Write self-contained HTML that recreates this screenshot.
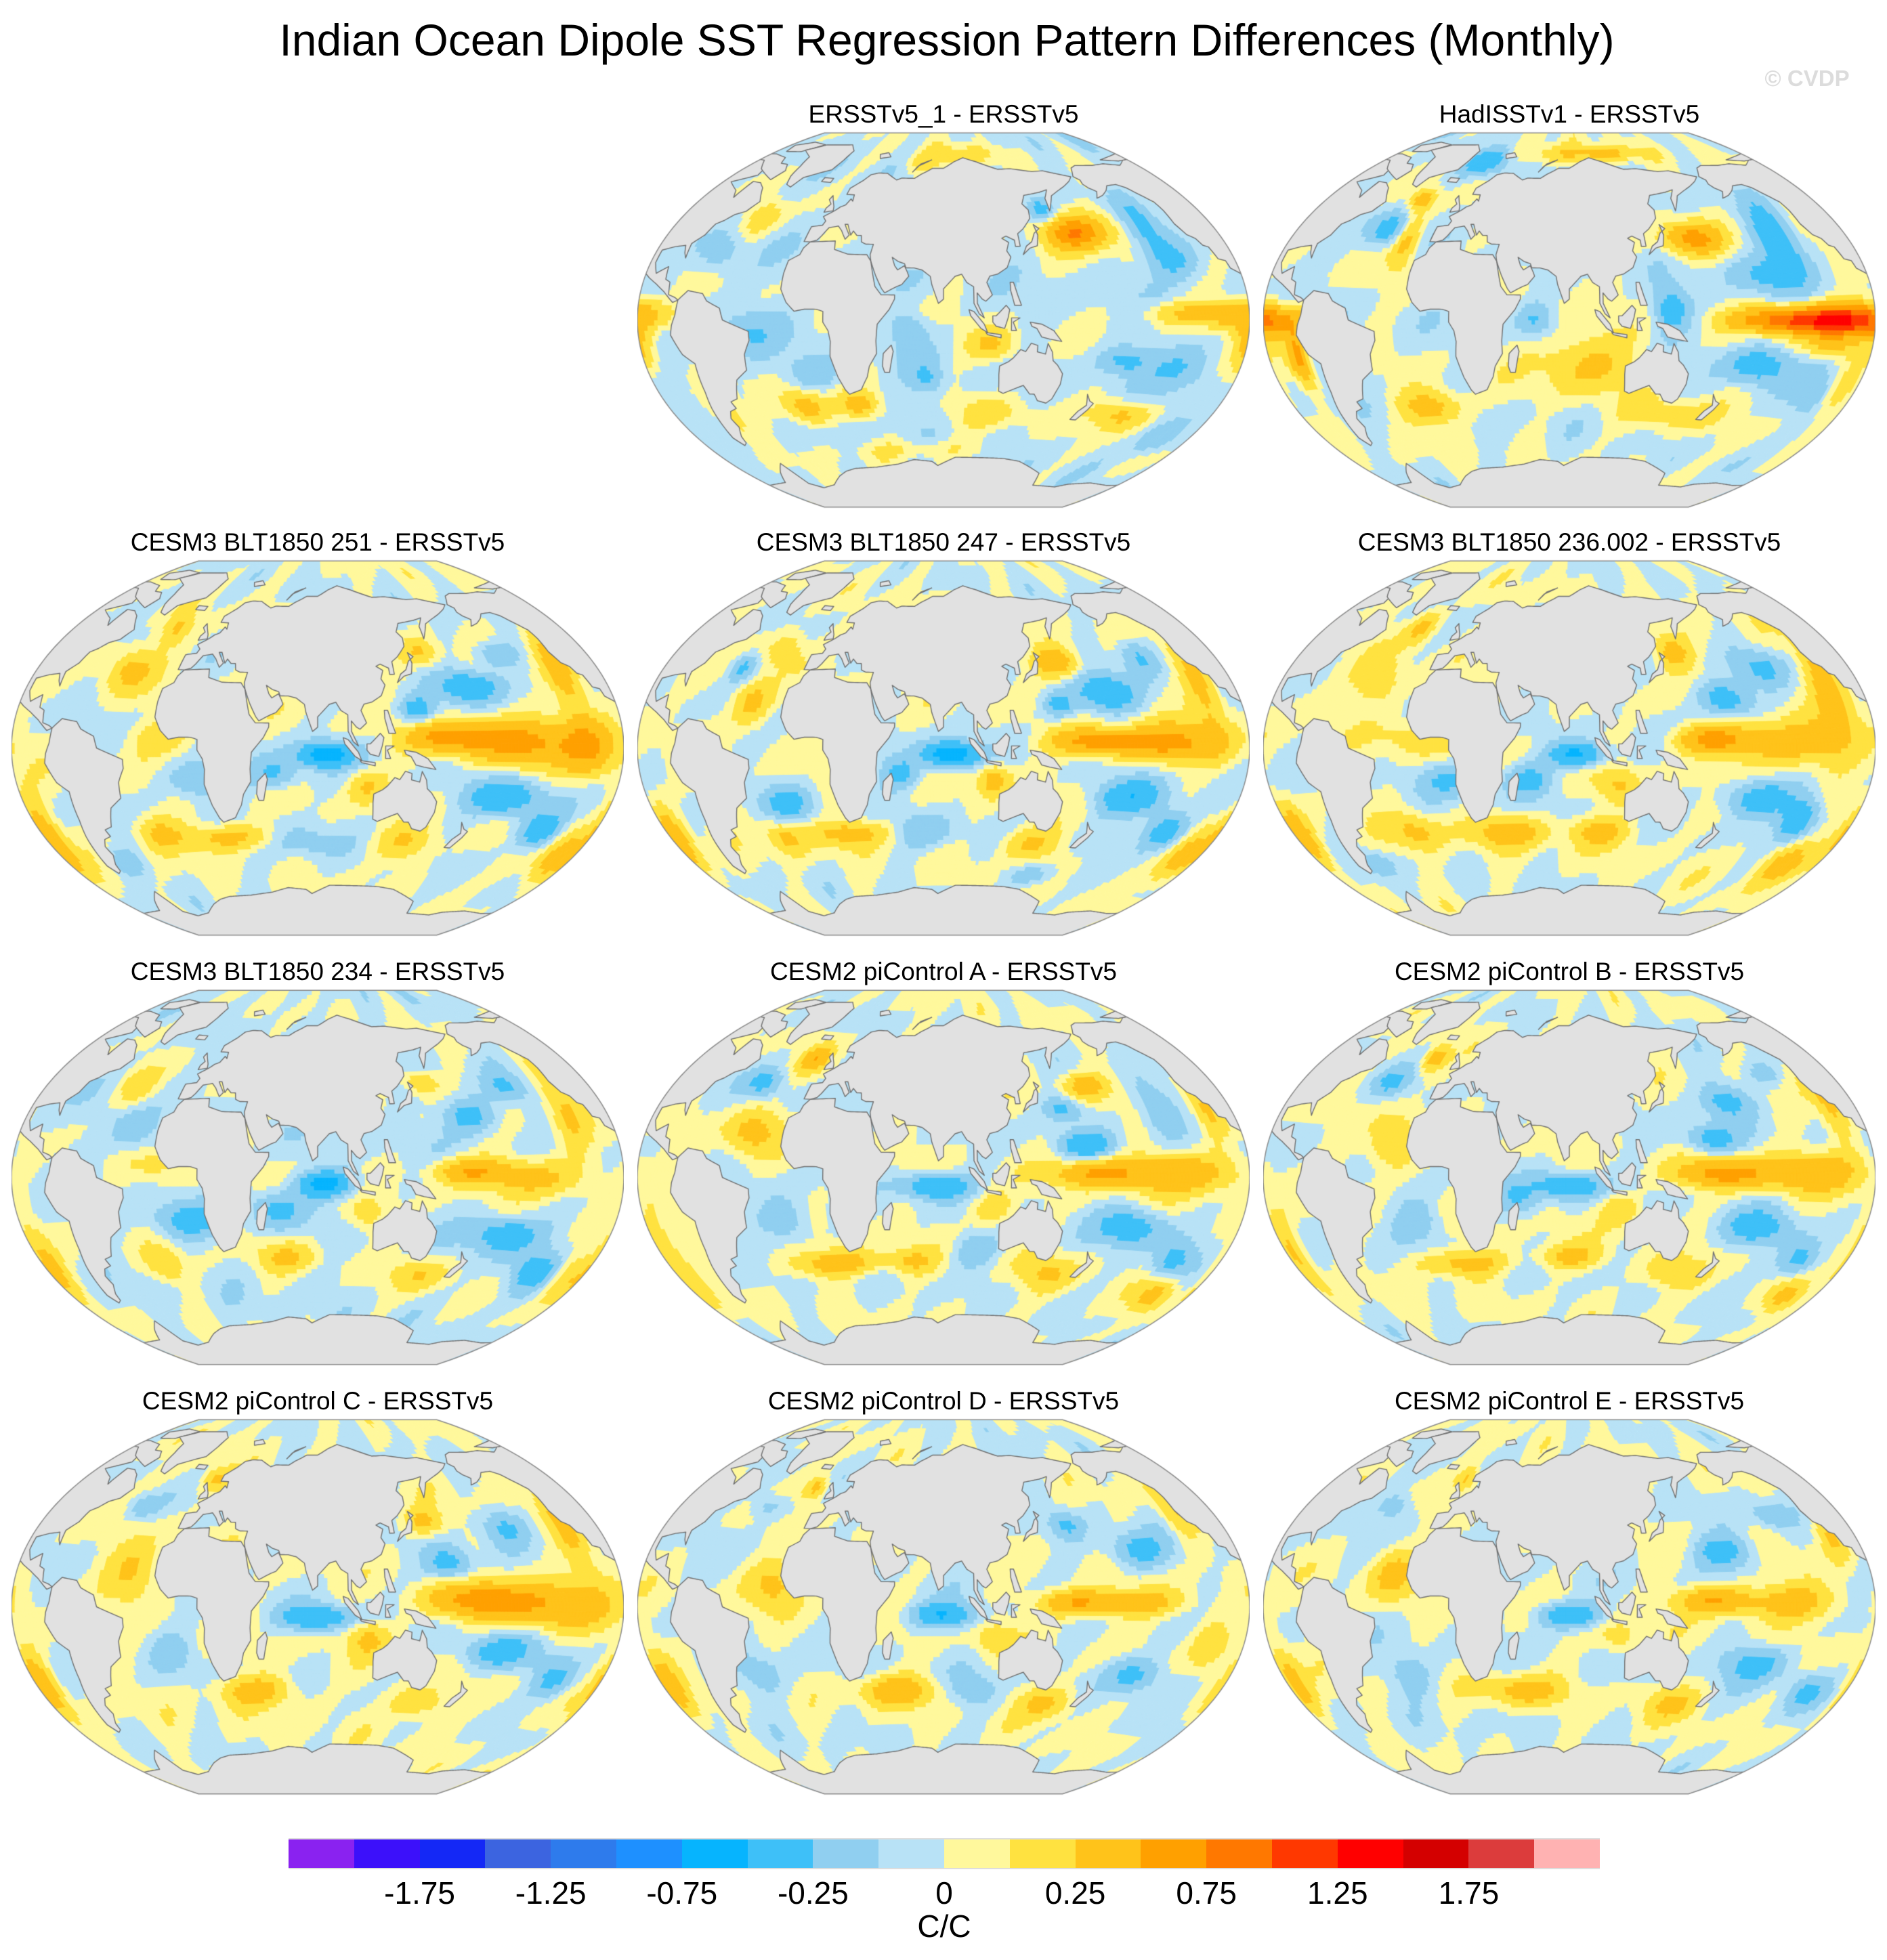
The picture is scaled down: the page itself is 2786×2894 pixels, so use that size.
<!DOCTYPE html>
<html><head><meta charset="utf-8">
<style>
html,body{margin:0;padding:0;background:#fff;}
body{width:2786px;height:2894px;position:relative;overflow:hidden;font-family:"Liberation Sans",Arial,sans-serif;}
.t{position:absolute;white-space:nowrap;transform:translate(-50%,-50%);color:#000;}
canvas{position:absolute;}
.cb{position:absolute;top:2714px;height:46px;box-sizing:border-box;}
</style></head>
<body>
<div class="t" style="left:1398px;top:59px;font-size:66px;">Indian Ocean Dipole SST Regression Pattern Differences (Monthly)</div>
<div class="t" style="left:2668px;top:116px;font-size:33px;font-weight:bold;color:#dcdcdc;">© CVDP</div>
<div id="panels"></div>
<div id="colorbar"></div>
<div class="t" style="left:1394px;top:2844px;font-size:46px;">C/C</div>
<script>
const levels=[-2,-1.75,-1.5,-1.25,-1,-0.75,-0.5,-0.25,-0.1,0,0.1,0.25,0.5,0.75,1,1.25,1.5,1.75,2];
const colors=['#8a22f0','#3c10fa','#1428f6','#3c64e0','#2e7bec','#1e90ff','#06b4fe','#3ec0f8','#90cff0','#b8e2f6','#fff89c','#ffe240','#ffc31a','#ffa000','#ff7800','#ff3800','#ff0000','#d40000','#dc3c3c','#ffb2b2'];
const tickLabels=['-1.75','-1.25','-0.75','-0.25','0','0.25','0.75','1.25','1.75'];
const tickLevels=[-1.75,-1.25,-0.75,-0.25,0,0.25,0.75,1.25,1.75];
const panelTitles=['ERSSTv5_1 - ERSSTv5','HadISSTv1 - ERSSTv5','CESM3 BLT1850 251 - ERSSTv5','CESM3 BLT1850 247 - ERSSTv5','CESM3 BLT1850 236.002 - ERSSTv5','CESM3 BLT1850 234 - ERSSTv5','CESM2 piControl A - ERSSTv5','CESM2 piControl B - ERSSTv5','CESM2 piControl C - ERSSTv5','CESM2 piControl D - ERSSTv5','CESM2 piControl E - ERSSTv5'];
const panelBias=[-0.03,-0.01,0,0,0.01,-0.02,0,0,0.01,0,0];
// anomaly features: [lon, lat, value, lonWidth, latWidth]
const featERSSTv5_1=[[165,40,0.55,18,7],[180,42,0.3,25,10],[150,52,-0.35,8,5],[215,40,-0.35,12,15],[225,25,-0.25,15,8],[255,2,0.5,25,6],[215,3,0.25,20,5],[190,-18,-0.3,15,6],[225,-20,-0.25,20,10],[200,-42,0.35,20,7],[240,-50,-0.2,15,8],[-10,-40,0.45,15,8],[25,-40,0.35,12,6],[0,-25,-0.2,15,8],[-35,-5,-0.2,15,10],[-60,28,-0.2,12,8],[-45,45,0.25,12,8],[-65,-40,0.3,10,10],[110,-12,0.3,15,8],[60,-5,-0.2,10,8],[70,-28,-0.25,10,8],[115,-45,0.15,30,8],[-100,-10,0.3,8,10],[100,80,0.2,40,5],[60,75,0.15,15,5],[60,-62,0.15,60,5]];
const featHadISST=[[240,0,1.3,35,6],[200,0,0.5,25,5],[-82,-15,0.6,6,12],[160,38,0.6,18,7],[215,35,-0.45,12,15],[200,20,-0.3,20,8],[140,5,-0.4,10,10],[195,-20,-0.4,18,8],[240,-30,-0.25,15,10],[235,-10,0.3,15,5],[90,-20,0.3,30,15],[60,0,-0.25,10,8],[-10,-40,0.4,20,8],[-40,40,-0.35,12,8],[-25,35,0.35,8,12],[-30,55,0.4,8,5],[0,75,-0.4,20,6],[60,80,0.2,30,5],[120,80,0.3,40,4],[150,-45,0.2,30,8],[-60,-10,-0.15,15,15],[-110,-30,0.3,10,10]];
const feat251=[[85,-3,-0.65,16,6],[55,-12,-0.3,14,8],[160,5,0.6,25,7],[205,2,0.5,35,10],[240,0,0.4,15,12],[140,18,-0.4,10,6],[175,28,-0.45,18,7],[200,42,-0.3,14,6],[235,30,0.4,10,20],[150,45,0.25,12,6],[195,-22,-0.45,22,8],[225,-35,-0.4,14,8],[250,-45,0.4,12,12],[110,-18,0.25,12,8],[10,-15,-0.3,20,8],[20,-42,0.35,30,6],[-25,-38,0.3,15,8],[-95,-35,0.4,8,15],[-40,35,0.3,15,10],[-25,55,0.3,10,8],[70,-45,-0.2,20,8],[140,-45,0.25,20,8],[-10,5,0.2,20,8],[-60,-50,-0.25,12,6]];
const feat247=[[85,-3,-0.75,16,6],[55,-12,-0.3,12,8],[170,3,0.6,25,6],[215,2,0.55,30,8],[155,40,0.45,14,7],[150,20,-0.35,10,6],[180,25,-0.45,18,8],[210,40,-0.3,12,8],[240,25,0.35,10,20],[195,-22,-0.45,22,8],[225,-35,-0.4,14,8],[250,-45,0.35,12,12],[110,-15,0.35,10,8],[-15,-25,-0.3,15,8],[20,-40,0.35,25,6],[-25,-40,0.3,12,8],[-95,-35,0.35,8,15],[-35,20,0.35,12,10],[-30,45,0.25,12,8],[-50,35,-0.3,8,6],[70,-40,-0.2,20,8],[140,-45,0.3,20,8],[150,-60,-0.2,20,5]];
const feat236=[[85,-3,-0.6,16,6],[55,-15,-0.3,14,8],[165,4,0.55,22,6],[210,2,0.4,35,10],[150,45,0.35,12,8],[175,22,-0.45,16,8],[205,35,-0.3,14,8],[240,25,0.35,10,20],[195,-22,-0.4,22,8],[225,-30,-0.45,12,10],[235,-48,0.4,15,10],[110,-18,0.25,12,8],[10,-15,-0.25,20,8],[40,-40,0.35,25,7],[100,-40,0.3,20,7],[-20,-38,0.3,15,8],[-95,-35,0.35,8,15],[-40,30,0.25,15,10],[-30,55,0.3,10,8],[-60,-50,-0.2,12,6],[-10,5,0.2,20,8]];
const feat234=[[85,-3,-0.6,16,6],[55,-15,-0.3,14,8],[170,3,0.5,22,6],[210,0,0.35,30,8],[150,45,0.3,12,6],[175,28,-0.35,16,8],[205,40,-0.25,12,6],[235,30,0.3,10,20],[195,-25,-0.4,22,8],[225,-40,-0.35,14,8],[110,-18,0.2,12,8],[0,-20,-0.3,20,8],[60,-38,0.25,20,7],[-20,-40,0.25,12,8],[-95,-35,0.3,8,15],[-30,20,-0.2,15,10],[-40,40,0.2,12,8],[150,-45,0.25,20,8],[250,-40,0.3,10,10],[-10,5,0.15,20,8]];
const featA=[[75,-4,-0.5,20,6],[170,2,0.5,25,6],[220,2,0.45,35,8],[165,15,-0.4,15,6],[155,32,-0.3,12,6],[175,42,0.35,15,6],[215,30,-0.3,12,12],[245,30,0.3,8,15],[195,-22,-0.4,20,8],[230,-35,-0.35,12,8],[235,-50,0.35,12,8],[110,-15,0.25,12,8],[-15,-20,-0.25,15,10],[10,-40,0.4,30,6],[60,-40,0.25,15,6],[-35,20,0.35,15,10],[-40,42,-0.3,12,6],[-15,55,0.4,10,6],[-95,-35,0.3,8,15],[150,-45,0.25,20,8],[100,-35,-0.2,15,8]];
const featB=[[80,-4,-0.5,18,6],[50,-10,-0.2,12,8],[170,2,0.55,25,6],[220,2,0.4,35,8],[165,18,-0.35,15,6],[180,35,-0.35,15,8],[215,45,-0.2,12,6],[245,30,0.35,8,15],[195,-22,-0.35,20,8],[230,-35,-0.35,12,8],[240,-50,0.3,12,8],[110,-15,0.25,12,8],[-10,-20,-0.2,15,10],[10,-40,0.35,30,6],[80,-38,0.3,20,6],[-25,15,0.3,15,12],[-40,42,-0.25,12,6],[-20,55,0.4,8,6],[-95,-30,0.35,8,15],[150,-45,0.25,20,8]];
const featC=[[80,-5,-0.5,20,6],[175,3,0.6,30,8],[220,0,0.45,30,10],[160,20,-0.4,14,8],[150,40,0.3,12,6],[200,35,-0.25,14,8],[240,30,0.3,10,15],[190,-20,-0.4,22,8],[230,-30,-0.3,14,8],[110,-15,0.25,12,8],[40,-40,0.35,25,7],[-30,15,0.3,15,12],[-40,45,-0.2,12,6],[-10,-20,-0.15,15,10],[-95,-30,0.35,8,15],[150,-45,0.25,20,8],[0,60,0.3,10,6]];
const featD=[[80,-4,-0.5,18,6],[160,2,0.55,22,6],[200,2,0.3,25,6],[200,25,-0.35,18,8],[160,38,-0.25,10,6],[235,40,0.3,10,12],[200,-30,-0.35,18,8],[240,-15,0.25,12,10],[50,-40,0.4,25,7],[110,-15,0.2,12,8],[-20,10,0.3,15,10],[-35,-30,-0.2,15,10],[-40,45,-0.2,12,6],[-15,55,0.35,8,6],[-95,-30,0.3,8,15],[150,-45,0.3,20,8],[100,-40,-0.2,15,8]];
const featE=[[80,-4,-0.5,18,6],[165,3,0.5,22,6],[210,2,0.35,30,8],[175,25,-0.35,18,8],[215,40,-0.25,12,6],[245,30,0.3,8,12],[195,-25,-0.35,20,8],[235,-35,-0.3,12,8],[50,-40,0.35,25,7],[110,-15,0.2,12,8],[-25,15,0.3,15,12],[-40,45,-0.2,12,6],[-20,-30,-0.2,15,10],[-95,-30,0.35,8,15],[150,-45,0.25,20,8],[0,60,0.3,8,6]];
const panelFeatures=[featERSSTv5_1,featHadISST,feat251,feat247,feat236,feat234,featA,featB,featC,featD,featE];

const land=[
[[-168,66],[-162,70],[-156,71],[-140,70],[-128,70],[-115,68],[-95,72],[-85,70],[-80,63],[-94,58],[-90,57],[-82,55],[-78,52],[-77,60],[-70,60],[-64,58],[-60,55],[-56,52],[-60,47],[-66,45],[-70,42],[-74,40],[-76,35],[-81,31],[-80,25],[-82,27],[-84,30],[-90,29],[-97,27],[-97,22],[-94,18],[-88,21],[-87,16],[-84,15],[-83,10],[-79,9],[-77,8],[-80,7],[-86,11],[-92,14],[-97,16],[-105,20],[-106,23],[-110,24],[-112,29],[-115,30],[-117,33],[-121,35],[-124,40],[-124,46],[-125,50],[-130,54],[-135,58],[-140,60],[-148,60],[-152,58],[-158,56],[-164,55],[-160,58],[-164,60],[-166,62],[-165,64]],
[[-125,72],[-110,73],[-95,74],[-80,73],[-75,70],[-68,70],[-62,67],[-65,62],[-75,64],[-85,66],[-95,70],[-110,70]],
[[-90,76],[-75,77],[-62,82],[-80,83],[-95,80]],
[[-73,78],[-60,82],[-30,83],[-20,80],[-20,75],[-22,70],[-30,68],[-40,65],[-43,60],[-48,61],[-52,65],[-54,70],[-58,75],[-68,77]],
[[-77,8],[-72,12],[-63,11],[-60,8],[-52,5],[-50,0],[-44,-2],[-35,-5],[-35,-9],[-39,-15],[-40,-22],[-48,-26],[-53,-34],[-58,-35],[-57,-38],[-62,-39],[-65,-42],[-64,-46],[-68,-50],[-69,-53],[-72,-54],[-75,-50],[-74,-43],[-73,-37],[-71,-30],[-70,-18],[-76,-14],[-81,-6],[-80,-2],[-78,2]],
[[-17,21],[-16,27],[-10,30],[-9,33],[-6,36],[10,37],[11,33],[20,31],[30,31],[32,31],[35,28],[37,22],[39,16],[43,12],[51,12],[51,10],[48,5],[41,-2],[40,-10],[40,-16],[35,-22],[33,-27],[28,-33],[20,-35],[18,-33],[15,-27],[12,-17],[13,-10],[12,-5],[9,-1],[9,4],[5,5],[-2,5],[-8,4],[-13,8],[-17,14]],
[[44,-25],[47,-25],[50,-15],[49,-12],[44,-16],[43,-22]],
[[-10,36],[-9,43],[-2,44],[-1,46],[-4,48],[2,51],[5,53],[8,54],[10,57],[12,56],[11,59],[5,59],[5,62],[12,66],[16,69],[22,70],[30,70],[40,67],[44,68],[55,68],[60,70],[70,73],[80,73],[90,76],[100,78],[112,76],[130,72],[142,72],[160,70],[170,70],[180,68],[190,66],[185,64],[178,62],[170,60],[163,58],[156,51],[157,57],[162,61],[155,60],[142,59],[138,55],[141,52],[140,48],[133,43],[129,41],[129,35],[126,35],[126,38],[121,40],[118,39],[122,37],[120,33],[122,30],[119,25],[113,22],[108,21],[106,18],[109,12],[105,9],[103,10],[100,13],[100,8],[104,1],[101,3],[98,8],[98,16],[94,18],[91,22],[87,21],[80,15],[80,10],[77,8],[73,17],[72,21],[67,24],[62,25],[57,25],[56,27],[52,28],[48,30],[50,26],[52,24],[56,26],[58,23],[59,21],[55,17],[52,16],[45,13],[43,15],[39,21],[35,28],[34,31],[35,36],[30,36],[27,37],[26,40],[23,40],[20,42],[19,40],[15,45],[13,45],[16,42],[18,40],[16,38],[12,42],[9,44],[3,43],[0,39],[-2,37],[-6,36]],
[[114,-22],[114,-26],[115,-34],[118,-35],[124,-33],[130,-31],[135,-35],[138,-35],[141,-38],[147,-39],[150,-37],[153,-30],[153,-25],[149,-21],[146,-19],[145,-15],[142,-11],[141,-16],[136,-15],[136,-12],[132,-11],[129,-15],[126,-14],[122,-18],[119,-20]],
[[172,-34],[175,-37],[178,-38],[176,-41],[171,-46],[167,-46],[170,-42],[174,-39]],
[[95,5],[98,4],[104,-2],[106,-6],[102,-4],[96,2]],
[[105,-6],[114,-7],[114,-8.5],[106,-7]],
[[109,2],[111,2],[117,7],[119,5],[118,1],[116,-4],[111,-3],[109,-1]],
[[120,1],[125,1],[121,-1],[123,-5],[120,-5]],
[[131,-1],[138,-2],[145,-5],[150,-10],[143,-9],[138,-8],[135,-4],[132,-3]],
[[120,18],[122,18],[124,12],[126,7],[122,7],[120,14]],
[[130,31],[135,34],[140,35],[142,40],[141,45],[144,43],[140,41],[137,37],[133,35]],
[[-5,50],[1,51],[0,53],[-3,56],[-5,58],[-6,56],[-3,54],[-5,52]],
[[-22,64],[-14,64],[-14,66],[-22,66]],
[[15,77],[25,78],[20,80],[12,79]],
[[52,71],[58,75],[68,77],[56,74]]
];
const antarctica=[[-180,-78],[-160,-78],[-150,-76],[-130,-74],[-110,-74],[-100,-73],[-80,-73],[-70,-68],[-60,-64],[-62,-74],[-50,-78],[-35,-77],[-20,-73],[-10,-71],[0,-70],[20,-70],[40,-69],[55,-67],[70,-68],[75,-70],[90,-66],[110,-66],[130,-66],[145,-67],[160,-70],[170,-72],[175,-78],[180,-78]];

const C0=80, W=904, H=557, D=Math.PI/180, K=452/2.5708;
const colX=[469,1393,2317], rowY=[194,826,1460,2094];
const slots=[[1,0],[2,0],[0,1],[1,1],[2,1],[0,2],[1,2],[2,2],[0,3],[1,3],[2,3]];

function proj(lr,lat){
  let ext=0; if(lr>180){ext=lr-180;lr=180;} else if(lr<-180){ext=lr+180;lr=-180;}
  const lam=lr*D, phi=lat*D;
  const a=Math.acos(Math.max(-1,Math.min(1,Math.cos(phi)*Math.cos(lam/2))));
  const s=a<1e-9?1:Math.sin(a)/a;
  let X=0.5*(lam*2/Math.PI+2*Math.cos(phi)*Math.sin(lam/2)/s);
  const Y=0.5*(phi+Math.sin(phi)/s);
  X+=ext*D*0.8;
  return [W/2+K*X, H/2-K*Y];
}
function colorFor(v){ for(let i=0;i<levels.length;i++){ if(v<levels[i]) return colors[i]; } return colors[colors.length-1]; }
function field(feats,bias,lon,lat,ph){
  let v=bias;
  for(const f of feats){ let dl=((lon-f[0])%360+540)%360-180; const dy=lat-f[1];
    v+=f[2]*Math.exp(-((dl/f[3])**2+(dy/f[4])**2)); }
  v+=0.07*Math.sin(lon*D*3+lat*D*5+ph)*Math.cos(lat*D*4-lon*D*2+2*ph);
  v+=0.04*Math.sin(lon*D*7-lat*D*9+3*ph);
  return v;
}
function outline(ctx){
  ctx.beginPath();
  for(let la=-90;la<=90;la+=2){const p=proj(-180,la); la===-90?ctx.moveTo(p[0],p[1]):ctx.lineTo(p[0],p[1]);}
  for(let la=90;la>=-90;la-=2){const p=proj(180,la); ctx.lineTo(p[0],p[1]);}
  ctx.closePath();
}
function densify(pts){
  const out=[];
  for(let i=0;i<pts.length;i++){
    const a=pts[i], b=pts[(i+1)%pts.length];
    const n=Math.max(1,Math.ceil(Math.max(Math.abs(b[0]-a[0]),Math.abs(b[1]-a[1]))/2));
    for(let j=0;j<n;j++) out.push([a[0]+(b[0]-a[0])*j/n, a[1]+(b[1]-a[1])*j/n]);
  }
  return out;
}
function drawPoly(ctx,pts){
  const d=densify(pts);
  let prev=((d[0][0]-C0)%360+540)%360-180;
  const rel=[[prev,d[0][1]]];
  for(let i=1;i<d.length;i++){ let r=d[i][0]-C0; while(r-prev>180)r-=360; while(r-prev<-180)r+=360; rel.push([r,d[i][1]]); prev=r; }
  for(const sh of [0,360,-360]){
    const lo=Math.min(...rel.map(p=>p[0]+sh)), hi=Math.max(...rel.map(p=>p[0]+sh));
    if(hi<-180||lo>180||lo<-300||hi>300) continue;
    ctx.beginPath();
    rel.forEach((p,i)=>{const q=proj(p[0]+sh,p[1]); i?ctx.lineTo(q[0],q[1]):ctx.moveTo(q[0],q[1]);});
    ctx.closePath(); ctx.fill(); ctx.stroke();
  }
}
function antLat(lon){
  lon=((lon+180)%360+360)%360-180;
  for(let i=0;i<antarctica.length-1;i++){
    const a=antarctica[i], b=antarctica[i+1];
    if(lon>=a[0]&&lon<=b[0]){ const t=(lon-a[0])/(b[0]-a[0]||1); return a[1]+(b[1]-a[1])*t; }
  }
  return -78;
}
function drawAnt(ctx){
  ctx.beginPath();
  let q=proj(-180,-90); ctx.moveTo(q[0],q[1]);
  for(let lr=-180;lr<=180;lr+=1){ const r=proj(lr,antLat(C0+lr)); ctx.lineTo(r[0],r[1]); }
  q=proj(180,-90); ctx.lineTo(q[0],q[1]);
  ctx.closePath(); ctx.fill();
  ctx.beginPath();
  for(let lr=-180;lr<=180;lr+=1){ const r=proj(lr,antLat(C0+lr)); lr===-180?ctx.moveTo(r[0],r[1]):ctx.lineTo(r[0],r[1]); }
  ctx.stroke();
}

const host=document.getElementById('panels');
panelTitles.forEach((title,i)=>{
  const [c,r]=slots[i];
  const t=document.createElement('div');
  t.className='t';
  
  
  t.style.left=colX[c]+'px'; t.style.top=(rowY[r]-25)+'px'; t.style.fontSize='37px';
  t.textContent=title; host.appendChild(t);
  const cv=document.createElement('canvas');
  
  
  cv.width=W; cv.height=H; cv.style.left=(colX[c]-W/2)+'px'; cv.style.top=rowY[r]+'px';
  host.appendChild(cv);
  const ctx=cv.getContext('2d');
  ctx.save(); outline(ctx); ctx.clip();
  const feats=panelFeatures[i], bias=panelBias[i], ph=i*1.7;
  const st=2;
  for(let la=-90;la<90;la+=st){
    for(let lr=-180;lr<180;lr+=st){
      const v=field(feats,bias,C0+lr+st/2,la+st/2,ph);
      const col=colorFor(v);
      const a=proj(lr,la),b=proj(lr+st,la),cc=proj(lr+st,la+st),dd=proj(lr,la+st);
      ctx.fillStyle=col; ctx.strokeStyle=col; ctx.lineWidth=1;
      ctx.beginPath(); ctx.moveTo(a[0],a[1]); ctx.lineTo(b[0],b[1]); ctx.lineTo(cc[0],cc[1]); ctx.lineTo(dd[0],dd[1]); ctx.closePath(); ctx.fill(); ctx.stroke();
    }
  }
  ctx.fillStyle='#e1e1e1'; ctx.strokeStyle='#707070'; ctx.lineWidth=1.4; ctx.lineJoin='round';
  land.forEach(p=>drawPoly(ctx,p));
  drawAnt(ctx);
  ctx.restore();
  outline(ctx); ctx.strokeStyle='#8a8a8a'; ctx.lineWidth=1.5; ctx.stroke();
});

const cb=document.getElementById('colorbar');
const cbX0=426, cbW=1936, bw=cbW/colors.length;
colors.forEach((col,i)=>{
  const b=document.createElement('div');
  b.className='cb';
  
  
  b.style.left=(cbX0+i*bw)+'px'; b.style.width=(bw+0.5)+'px'; b.style.background=col;
  b.style.borderTop='2px solid #ddd'; b.style.borderBottom='2px solid #ddd';
  cb.appendChild(b);
});
tickLabels.forEach((lab,i)=>{
  const k=levels.indexOf(tickLevels[i])+1;
  const t=document.createElement('div');
  t.className='t';
  
  
  t.style.left=(cbX0+k*bw)+'px'; t.style.top='2795px'; t.style.fontSize='46px';
  t.textContent=lab; cb.appendChild(t);
});
</script>
</body></html>
